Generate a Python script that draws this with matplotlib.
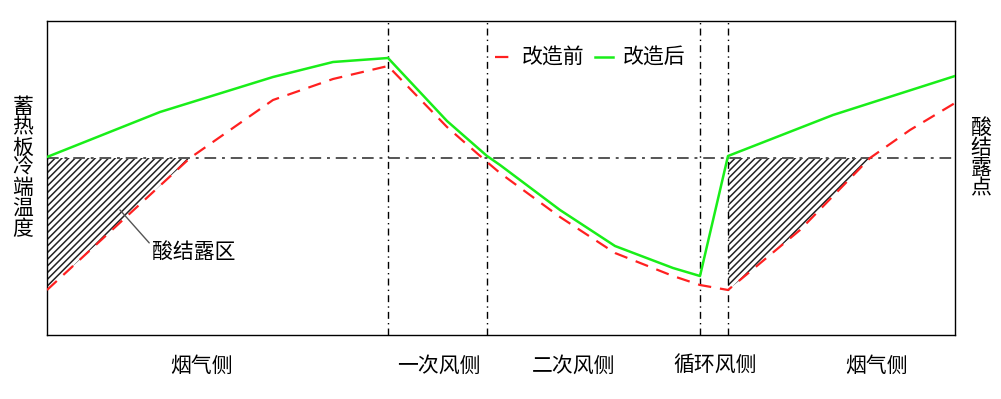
import matplotlib
matplotlib.use("Agg")
import matplotlib.pyplot as plt
import numpy as np

plt.rcParams["font.family"] = ["Noto Sans CJK SC", "DejaVu Sans"]
plt.rcParams["hatch.linewidth"] = 1.1

# 横轴: 沿转子旋转方向的位置; 纵轴: 蓄热板冷端温度 (相对值)
before_x = [0, 143, 226, 286, 341, 400, 440, 453, 513, 568, 626, 653, 681, 753, 823, 863, 908]
before_y = [45, 177, 235, 256, 269, 208, 173, 162, 118, 82, 59, 50, 45, 105, 177, 205, 232]

after_x = [0, 113, 226, 286, 341, 400, 440, 453, 513, 568, 626, 653, 681, 786, 908]
after_y = [178, 223, 258, 273, 277, 214, 179, 170, 125, 89, 67, 59, 179, 220, 259]

dew_point = 177
boundaries = [341, 440, 653, 681]

zone_labels = ["烟气侧", "一次风侧", "二次风侧", "循环风侧", "烟气侧"]
zone_label_x = [123, 350, 485, 626, 798]

fig = plt.figure(figsize=(10.01, 3.99), dpi=100)
ax = fig.add_axes([47 / 1001, 64 / 399, 908 / 1001, 314 / 399])
ax.set_xlim(0, 908)
ax.set_ylim(0, 314)

bx = np.array(before_x, dtype=float)
by = np.array(before_y, dtype=float)

# 酸结露区: 改造前曲线低于酸露点的部分
xs = np.linspace(0, 908, 2000)
ys = np.interp(xs, bx, by)
ax.fill_between(xs, ys, dew_point, where=(ys < dew_point) & ((xs <= boundaries[0]) | (xs >= boundaries[3])),
                facecolor="white", edgecolor="#222222", hatch="/////", linewidth=0,
                interpolate=True, zorder=1)

ax.axhline(dew_point, color="#555555", lw=1.4, ls=(0, (6, 3, 1.5, 3)), zorder=2)
for b in boundaries:
    ax.axvline(b, color="black", lw=1.0, ls=(0, (5, 3, 1, 3)), zorder=2)

ax.plot(before_x, before_y, color="#ff2020", lw=1.6, ls=(0, (6, 4)), label="改造前", zorder=3)
ax.plot(after_x, after_y, color="#19ee19", lw=1.8, label="改造后", zorder=4)

ax.annotate("酸结露区", xy=(73, 125), xytext=(105, 83), fontsize=15,
            va="center", ha="left",
            arrowprops=dict(arrowstyle="-", color="#555555", lw=1.0,
                            shrinkA=0, shrinkB=0, relpos=(-0.03, 0.9)))

for lab, lx in zip(zone_labels, zone_label_x):
    ax.text(lx, -31, lab, fontsize=15, ha="left", va="center", clip_on=False)

fig.text(23 / 1001, 1 - 168 / 399, "\n".join("蓄热板冷端温度"), fontsize=15,
         ha="center", va="center", linespacing=0.9)
fig.text(981 / 1001, 1 - 158 / 399, "\n".join("酸结露点"), fontsize=15,
         ha="center", va="center", linespacing=0.9)

ax.legend(loc="center", bbox_to_anchor=(0.598, 0.882), ncol=2, frameon=False,
          fontsize=15, handlelength=0.85, handletextpad=0.45, columnspacing=0.5,
          borderpad=0)

ax.set_xticks([])
ax.set_yticks([])
for s in ax.spines.values():
    s.set_linewidth(1.0)

fig.savefig("out.png", dpi=100)
